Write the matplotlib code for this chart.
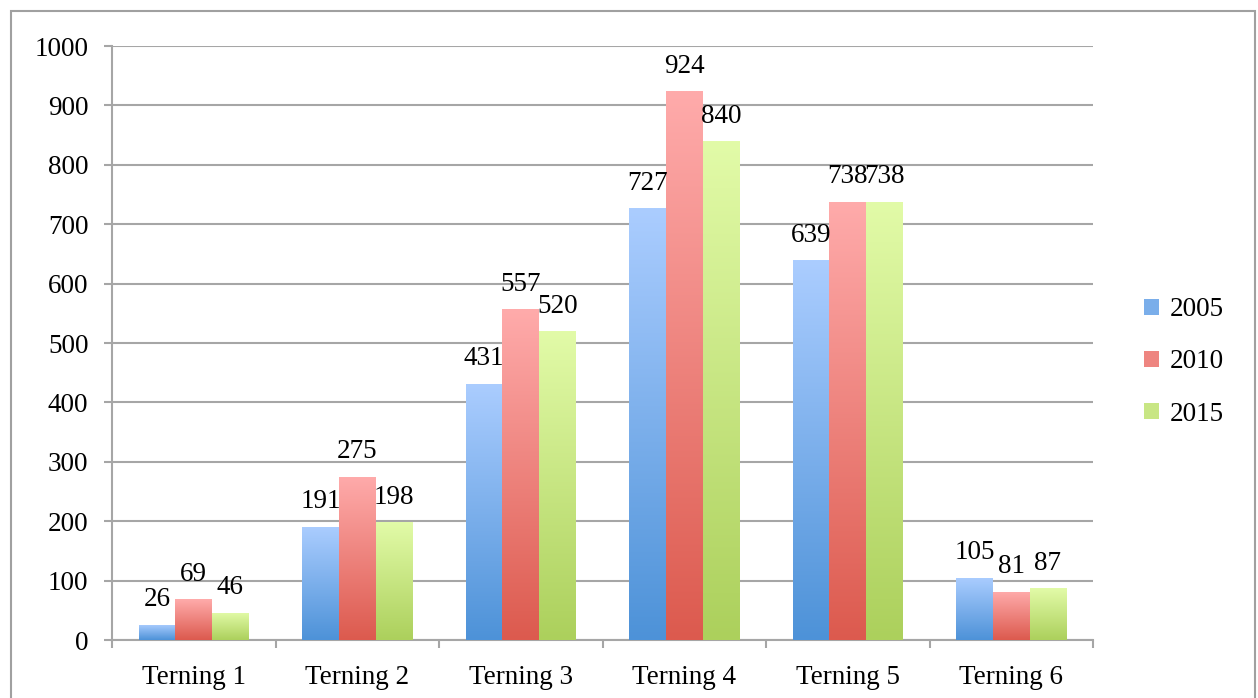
import matplotlib.pyplot as plt
import numpy as np
from matplotlib.patches import Rectangle
from matplotlib.colors import LinearSegmentedColormap

categories = ['Terning 1', 'Terning 2', 'Terning 3', 'Terning 4', 'Terning 5', 'Terning 6']
years = ['2005', '2010', '2015']
v2005 = [26, 191, 431, 727, 639, 105]
v2010 = [69, 275, 557, 924, 738, 81]
v2015 = [46, 198, 520, 840, 738, 87]
series = [v2005, v2010, v2015]

# top / bottom colours of the gradients
grad = [('#abcdff', '#4d92d8'), ('#ffabab', '#dc5a4e'), ('#e2fba8', '#acd05c')]

plt.rcParams['font.family'] = ['Liberation Serif', 'DejaVu Serif']
fs = 19.5

fig = plt.figure(figsize=(12.58, 6.98), dpi=100)
ax = fig.add_axes([112/1258, 1-640/698, (1093-112)/1258, (640-46)/698])

x = np.arange(len(categories))
w = 0.224
grid_c = '#a6a6a6'

for i, (vals, (ctop, cbot)) in enumerate(zip(series, grad)):
    cmap = LinearSegmentedColormap.from_list('g%d' % i, [cbot, ctop])
    bars = ax.bar(x + (i-1)*w, vals, w, color='none', edgecolor='none', zorder=3)
    for b, v in zip(bars, vals):
        x0 = b.get_x()
        img = ax.imshow(np.linspace(0, 1, 256).reshape(-1, 1), cmap=cmap, origin='lower',
                        extent=[x0, x0 + w, 0, v], aspect='auto', zorder=3)
        img.set_clip_path(b)
        ax.annotate(str(v), (x0 + w/2, v), xytext=(0, 9), textcoords='offset points',
                    ha='center', va='bottom', fontsize=fs, zorder=4)

ax.set_xlim(-0.5, 5.5)
ax.set_ylim(0, 1000)
ax.set_yticks(range(0, 1001, 100))
ax.set_xticks(np.arange(-0.5, 6, 1))
ax.set_xticklabels([])
ax.set_xticks(x, minor=True)
ax.set_xticklabels(categories, minor=True)
ax.tick_params(axis='x', which='minor', length=0, pad=18, labelsize=fs)
ax.tick_params(axis='x', which='major', length=6, width=1.5, color=grid_c, direction='out')
ax.tick_params(axis='y', length=6, width=1.5, color=grid_c, labelsize=fs, pad=11)
ax.yaxis.grid(True, color=grid_c, lw=1.5, zorder=0)
ax.set_axisbelow(True)
for s in ['top', 'right']:
    ax.spines[s].set_visible(False)
for s in ['left', 'bottom']:
    ax.spines[s].set_color(grid_c)
    ax.spines[s].set_linewidth(1.5)

handles = [Rectangle((0, 0), 1, 1, facecolor=c) for c in ['#7aaeea', '#ee8580', '#c8e684']]
fig.legend(handles, years, loc='center left', bbox_to_anchor=(1120/1258, 1-362/698),
           frameon=False, fontsize=fs, handlelength=0.55, handleheight=0.55,
           labelspacing=1.0, handletextpad=0.4)

fig.patches.append(Rectangle((11/1258, -0.01), (1255-11)/1258, 1-11/698 + 0.01,
                             transform=fig.transFigure, fill=False,
                             edgecolor='#a0a0a0', lw=1.5))

plt.savefig('out.png', dpi=100)
